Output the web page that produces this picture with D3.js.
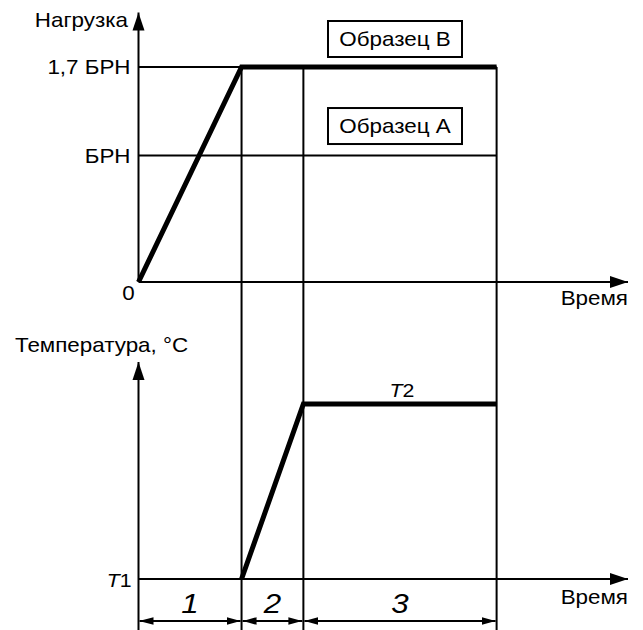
<!DOCTYPE html>
<html>
<head>
<meta charset="utf-8">
<script src="https://cdn.jsdelivr.net/npm/d3@7"></script>
<style>
  body { margin: 0; background: #fff; }
  text { font-family: "Liberation Sans", Arial, sans-serif; fill: #000; }
</style>
</head>
<body>
<div id="chart"></div>
<script>
(function(){

// phases of the test (time units)
var phaseNames = ["1", "2", "3"];
var phaseBounds = [0, 2, 3.2, 6.95];
var timeMax = 9.5;

// load levels and their labels
var loadLevels = [0, 1, 1.7];
var loadLabels = ["0", "БРН", "1,7 БРН"];
var loadMax = 2.13;
// load curve
var loadTimes = [0, 2, 6.95];
var loadValues = [0, 1.7, 1.7];

// temperature curve (T1 = 0, T2 = 1)
var tempTimes = [2, 3.2, 6.95];
var tempValues = [0, 1, 1];
var tempMax = 1.24;

var sampleNames = ["Образец В", "Образец А"];

var width = 643, height = 630;
var sx = 1.12; // fonts in the picture are a bit wide

var svg = d3.select("#chart").append("svg")
  .attr("width", width)
  .attr("height", height)

var x = d3.scaleLinear().domain([0, timeMax]).range([138.5, 628])
var yLoad = d3.scaleLinear().domain([0, 1.7]).range([282, 67])
var yTemp = d3.scaleLinear().domain([0, 1]).range([579, 404])

var defs = svg.append("defs")
defs.append("marker")
  .attr("id", "axisArrow")
  .attr("markerUnits", "userSpaceOnUse")
  .attr("viewBox", "0 -7 18 14")
  .attr("markerWidth", 18).attr("markerHeight", 14)
  .attr("refX", 18).attr("refY", 0)
  .attr("orient", "auto")
  .append("path").attr("d", "M0,-6L18,0L0,6Z").attr("fill", "#000")
defs.append("marker")
  .attr("id", "dimArrow")
  .attr("markerUnits", "userSpaceOnUse")
  .attr("viewBox", "0 -5 14 10")
  .attr("markerWidth", 14).attr("markerHeight", 10)
  .attr("refX", 14).attr("refY", 0)
  .attr("orient", "auto-start-reverse")
  .append("path").attr("d", "M0,-3.8L14,0L0,3.8Z").attr("fill", "#000")

function line(x1, y1, x2, y2, w){
  return svg.append("line")
    .attr("x1", x1).attr("y1", y1).attr("x2", x2).attr("y2", y2)
    .attr("stroke", "#000").attr("stroke-width", w || 2)
}

function label(px, py, s, anchor, size){
  return svg.append("text")
    .attr("transform", "translate(" + px + "," + py + ") scale(" + sx + ",1)")
    .attr("text-anchor", anchor || "start")
    .attr("font-size", size || 20)
    .text(s)
}

// phase boundaries (vertical lines down to the bottom)
phaseBounds.slice(1).forEach(function(t){
  line(x(t), yLoad(1.7), x(t), height + 2)
})

// load grid lines
loadLevels.slice(1).forEach(function(v){
  line(x(0), yLoad(v), x(phaseBounds[3]), yLoad(v))
})

// load axes
line(x(0), yLoad(0), x(0), yLoad(loadMax)).attr("marker-end", "url(#axisArrow)")
line(x(0), yLoad(0), x(timeMax), yLoad(0)).attr("marker-end", "url(#axisArrow)")

// temperature axes
line(x(0), height + 2, x(0), yTemp(tempMax)).attr("marker-end", "url(#axisArrow)")
line(x(0), yTemp(0), x(timeMax), yTemp(0)).attr("marker-end", "url(#axisArrow)")

// curves
var curve = d3.line().x(function(d){ return x(d[0]) }).y(function(d){ return d[1] })
svg.append("path")
  .attr("d", curve(loadTimes.map(function(t, i){ return [t, yLoad(loadValues[i])] })))
  .attr("fill", "none").attr("stroke", "#000").attr("stroke-width", 5)
svg.append("path")
  .attr("d", curve(tempTimes.map(function(t, i){ return [t, yTemp(tempValues[i])] })))
  .attr("fill", "none").attr("stroke", "#000").attr("stroke-width", 5)

// load tick labels
loadLevels.forEach(function(v, i){
  if (v === 0) label(x(0) - 10, yLoad(v) + 18, loadLabels[i], "middle")
  else label(x(0) - 8, yLoad(v) + 7, loadLabels[i], "end")
})

// axis titles
label(128, 27, "Нагрузка", "end")
label(x(timeMax), yLoad(0) + 23, "Время", "end")
label(15, 352, "Температура, °C", "start")
label(x(timeMax), yTemp(0) + 25, "Время", "end")

// T1 / T2
var t1 = label(x(0) - 7, yTemp(0) + 8, "", "end", 19)
t1.append("tspan").attr("font-style", "italic").text("T")
t1.append("tspan").text("1")
var t2 = label((x(phaseBounds[2]) + x(phaseBounds[3])) / 2 + 2, yTemp(1) - 7, "", "middle", 19)
t2.append("tspan").attr("font-style", "italic").text("T")
t2.append("tspan").text("2")

// sample boxes
var boxCy = [yLoad(1.7) - 28, yLoad(1) - 29.5]
sampleNames.forEach(function(s, i){
  var cx = 395
  svg.append("rect")
    .attr("x", cx - 67).attr("y", boxCy[i] - 18)
    .attr("width", 134).attr("height", 36)
    .attr("fill", "#fff").attr("stroke", "#000").attr("stroke-width", 2)
  label(cx, boxCy[i] + 7, s, "middle")
})

// phase dimensions
var dimY = 621
phaseNames.forEach(function(p, i){
  var a = x(phaseBounds[i]), b = x(phaseBounds[i + 1])
  line(a + 1, dimY, b - 1, dimY)
    .attr("marker-start", "url(#dimArrow)")
    .attr("marker-end", "url(#dimArrow)")
  label((a + b) / 2, 613, p, "middle", 28).attr("font-style", "italic")
})

})();
</script>
</body>
</html>
